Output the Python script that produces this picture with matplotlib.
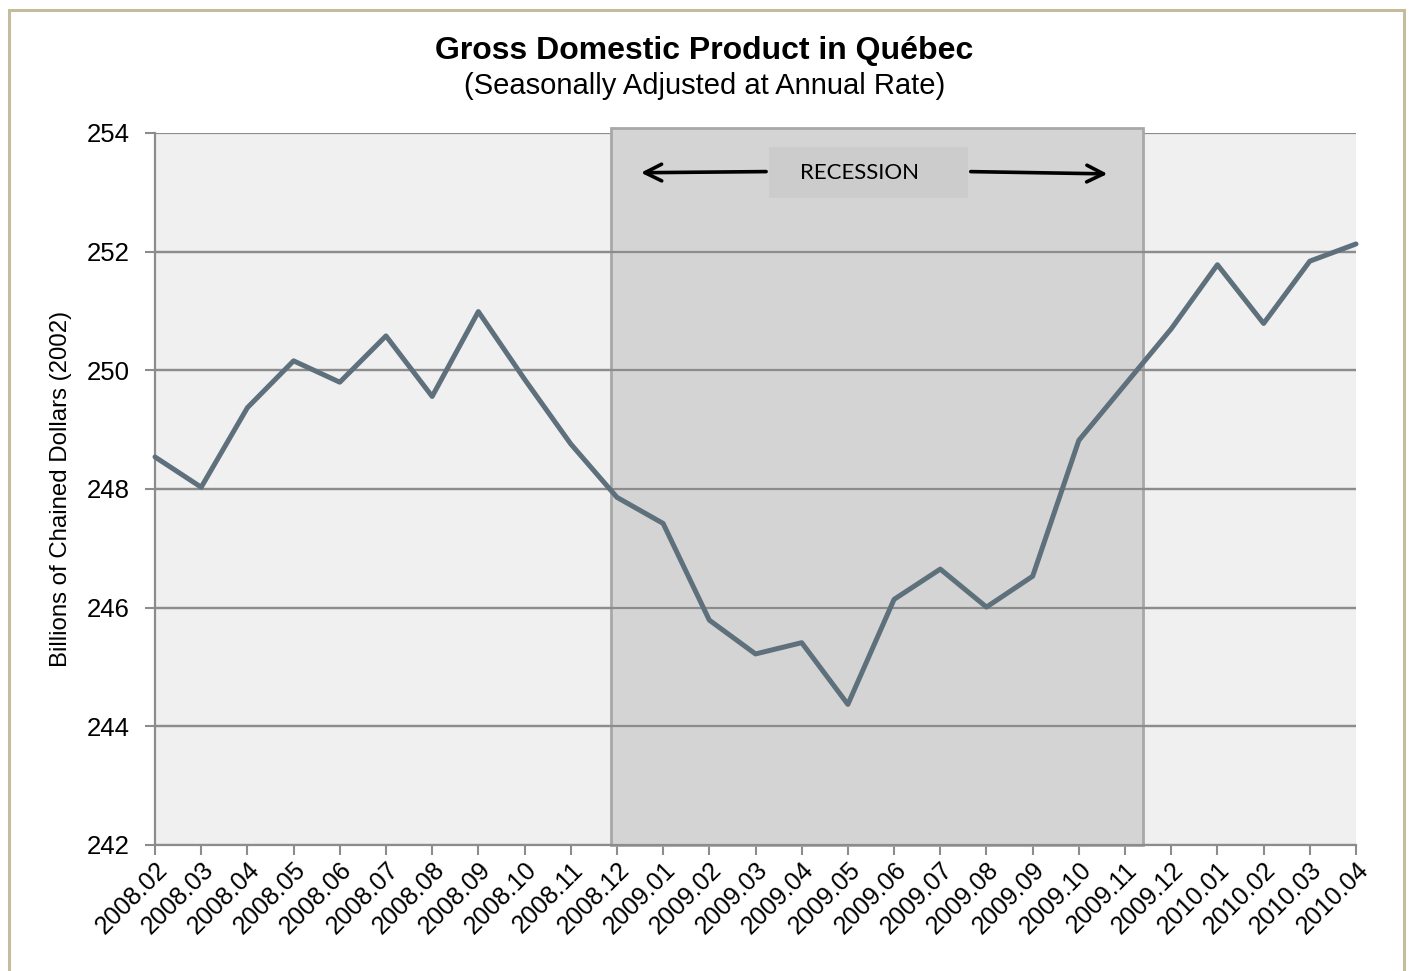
import matplotlib
matplotlib.use('Agg')
import matplotlib.pyplot as plt
import matplotlib.patches as patches

# monthly GDP, billions of chained 2002 dollars
months = ['2008.02', '2008.03', '2008.04', '2008.05', '2008.06', '2008.07',
          '2008.08', '2008.09', '2008.10', '2008.11', '2008.12', '2009.01',
          '2009.02', '2009.03', '2009.04', '2009.05', '2009.06', '2009.07',
          '2009.08', '2009.09', '2009.10', '2009.11', '2009.12', '2010.01',
          '2010.02', '2010.03', '2010.04']
gdp = [248.54, 248.03, 249.37, 250.16, 249.80, 250.58,
       249.56, 250.99, 249.85, 248.76, 247.86, 247.42,
       245.79, 245.22, 245.41, 244.37, 246.14, 246.65,
       246.01, 246.53, 248.82, 249.76, 250.70, 251.78,
       250.79, 251.84, 252.13]
yticks = [242, 244, 246, 248, 250, 252, 254]

# recession span in category units
rec_start = 9.87
rec_end = 21.39

plt.rcParams['font.family'] = ['Liberation Sans', 'DejaVu Sans']

fig = plt.figure(figsize=(14.09, 9.71), dpi=100)
ax = fig.add_axes([155 / 1409, 1 - 845 / 971, (1356 - 155) / 1409, (845 - 133) / 971])

# outer chart border (no bottom edge visible)
fig.add_artist(patches.Rectangle((9 / 1409, -0.05), (1404 - 9) / 1409, 1.05 - 10 / 971,
                                 transform=fig.transFigure, fill=False,
                                 edgecolor='#C4BC9C', linewidth=2.2))

x = list(range(len(months)))
ax.set_facecolor('#F0F0F0')
ax.set_xlim(0, len(months) - 1)
ax.set_ylim(242, 254)

for y in yticks:
    ax.axhline(y, color='#8C8C8C', linewidth=1.6, zorder=1)

# recession shading
ax.add_patch(patches.Rectangle((rec_start, 242), rec_end - rec_start, 12.08,
                               facecolor='#D4D4D4', edgecolor='#A8A8A8',
                               linewidth=2, zorder=2, clip_on=False))
for y in yticks[1:-1]:
    ax.axhline(y, color='#8C8C8C', linewidth=1.6, zorder=2.5)

ax.plot(x, gdp, color='#5E707B', linewidth=3.6, solid_joinstyle='round',
        solid_capstyle='round', zorder=4, clip_on=False)

# recession label with arrows
ax.add_patch(patches.Rectangle((13.29, 252.90), 4.31, 0.86, facecolor='#CCCCCC',
                               edgecolor='none', zorder=3))
ax.text(15.26, 253.33, 'RECESSION', ha='center', va='center', fontsize=16,
        family=['Lato', 'DejaVu Sans'], zorder=5)
ax.annotate('', xy=(10.46, 253.33), xytext=(13.29, 253.35),
            arrowprops=dict(arrowstyle='->', color='black', lw=2.6,
                            mutation_scale=30), zorder=5)
ax.annotate('', xy=(20.68, 253.31), xytext=(17.60, 253.35),
            arrowprops=dict(arrowstyle='->', color='black', lw=2.6,
                            mutation_scale=30), zorder=5)

ax.set_yticks(yticks)
ax.set_yticklabels([str(v) for v in yticks], fontsize=18.5)
ax.set_xticks(x)
ax.set_xticklabels(months, rotation=45, ha='right', rotation_mode='anchor', fontsize=18)
ax.tick_params(axis='x', length=7, width=1.5, color='#8C8C8C', pad=2)
ax.tick_params(axis='y', length=7, width=1.5, color='#8C8C8C', pad=11)
for side in ['top', 'right']:
    ax.spines[side].set_visible(False)
ax.spines['left'].set_color('#8C8C8C')
ax.spines['left'].set_linewidth(1.6)
ax.spines['bottom'].set_color('#8C8C8C')
ax.spines['bottom'].set_linewidth(1.6)
ax.spines['bottom'].set_zorder(6)

ax.set_ylabel('Billions of Chained Dollars (2002)', fontsize=17.3, labelpad=11)

fig.text(0.5, 1 - 51 / 971, 'Gross Domestic Product in Québec', ha='center',
         va='center', fontsize=23, fontweight='bold')
fig.text(0.5, 1 - 86 / 971, '(Seasonally Adjusted at Annual Rate)', ha='center',
         va='center', fontsize=21)

fig.savefig('out.png', dpi=100)
